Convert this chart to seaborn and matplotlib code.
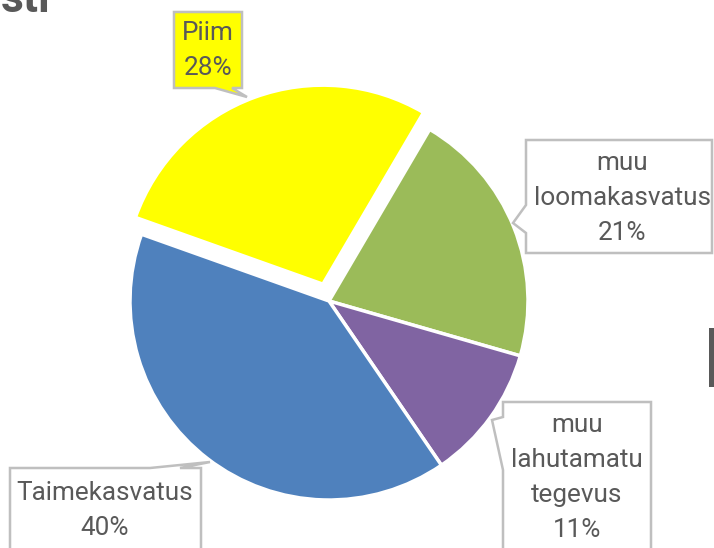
import matplotlib
matplotlib.use("Agg")
import matplotlib.pyplot as plt
from matplotlib.patches import Polygon, Rectangle
import seaborn as sns

# ---- data ----
categories = ["Piim", "muu loomakasvatus", "muu lahutamatu tegevus", "Taimekasvatus"]
values = [28, 21, 11, 40]
label_lines = [["Piim"], ["muu", "loomakasvatus"], ["muu", "lahutamatu", "tegevus"], ["Taimekasvatus"]]
colors = ["#FFFF00", "#9BBB59", "#8064A2", "#4F81BD"]

sns.set_theme(style="white")
plt.rcParams["font.family"] = ["Roboto", "DejaVu Sans"]

W, H = 714, 548
fig = plt.figure(figsize=(W / 100, H / 100), dpi=100)
ax = fig.add_axes([0, 0, 1, 1])


def P(x, y):
    """image pixel (from top) -> axes coords"""
    return (x, H - y)


radius = 199
total = sum(values)
ax.pie(values, colors=colors, startangle=160.4, counterclock=False,
       explode=[0.09 * radius, 0, 0, 0], radius=radius, center=P(329, 301),
       wedgeprops=dict(edgecolor="white", linewidth=2.5))

ax.set_xlim(0, W)
ax.set_ylim(0, H)
ax.set_aspect("equal")
ax.axis("off")

edge = "#BFBFBF"
txt = "#595959"

callouts = [
    # (vertices, facecolor, text centre x, first line centre y)
    ([(174, 12), (242, 12), (242, 88), (232, 88), (247, 97), (215, 88), (174, 88)], colors[0], 208, 33),
    ([(526, 140), (712, 140), (712, 253), (526, 253), (526, 233), (513, 223), (526, 205)], "white", 622, 163),
    ([(503, 402), (651, 402), (651, 560), (503, 560), (503, 470), (492, 420), (503, 417)], "white", 577, 425),
    ([(10, 468), (150, 468), (210, 462), (180, 468), (201, 468), (201, 560), (10, 560)], "white", 105, 493),
]

step = 35
for (verts, fc, cx, cy), lines, v in zip(callouts, label_lines, values):
    poly = Polygon([P(x, y) for x, y in verts], closed=True, facecolor=fc,
                   edgecolor=edge, linewidth=1.8, zorder=5)
    ax.add_patch(poly)
    pct = f"{round(100 * v / total)}%"
    for i, line in enumerate(lines + [pct]):
        ax.text(*P(cx, cy + i * step), line, ha="center", va="center",
                fontsize=18.8, color=txt, zorder=6)

# cropped fragments of surrounding slide content
ax.text(*P(50, 12), "sti", ha="right", va="baseline", fontsize=32,
        fontweight="bold", color=txt, zorder=6, clip_on=False)
ax.add_patch(Rectangle(P(709, 387), 6, 59, facecolor=txt, edgecolor="none", zorder=6))

fig.savefig("out.png", dpi=100)
